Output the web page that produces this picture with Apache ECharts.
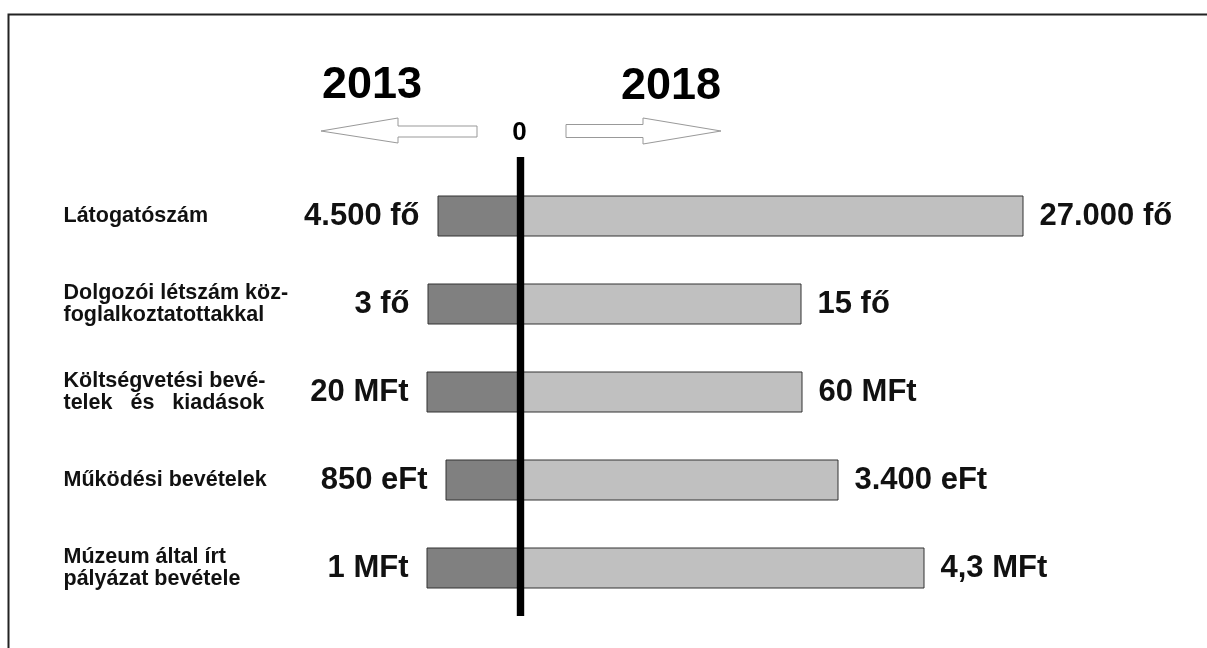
<!DOCTYPE html>
<html><head><meta charset="utf-8">
<script src="https://cdn.jsdelivr.net/npm/echarts@6/dist/echarts.min.js"></script>
<style>html,body{margin:0;padding:0;background:#fff}#c{width:1207px;height:648px}</style>
</head><body><div id="c"></div>
<script>
var categories = ['Látogatószám', 'Dolgozói létszám köz-\nfoglalkoztatottakkal', 'Költségvetési bevé-\ntelek   és   kiadások', 'Működési bevételek', 'Múzeum által írt\npályázat bevétele'];
var yearLeft = '2013';
var yearRight = '2018';
// visual bar lengths as drawn in the original (not proportional to the values)
var barLen2013 = [83, 93, 94, 75, 94];
var barLen2018 = [503, 281, 282, 318, 404];
var labels2013 = ['4.500 fő', '3 fő', '20 MFt', '850 eFt', '1 MFt'];
var labels2018 = ['27.000 fő', '15 fő', '60 MFt', '3.400 eFt', '4,3 MFt'];
var zeroLabel = '0';

var FONT = '"Liberation Sans", Arial, sans-serif';
var chart = echarts.init(document.getElementById('c'), null, {renderer: 'canvas'});
var valueLabelStyle = {fontFamily: FONT, fontWeight: 'bold', fontSize: 31, color: '#111'};

chart.setOption({
  animation: false,
  backgroundColor: '#fff',
  grid: {left: 370.5, width: 750, top: 172, height: 440, containLabel: false, outerBoundsMode: 'none'},
  xAxis: {type: 'value', min: -150, max: 600, show: false},
  yAxis: {
    type: 'category', inverse: true, data: categories,
    axisLine: {show: false}, axisTick: {show: false}, splitLine: {show: false},
    axisLabel: {align: 'left', margin: 307, fontFamily: FONT, fontWeight: 'bold', fontSize: 21.5, lineHeight: 22, color: '#111'}
  },
  series: [
    {
      type: 'bar', name: yearLeft, barWidth: 41, barGap: '-100%',
      data: barLen2013.map(function (v) { return -v; }),
      itemStyle: {color: '#808080', borderColor: '#333', borderWidth: 1},
      label: Object.assign({show: true, position: 'left', distance: 18,
        formatter: function (p) { return labels2013[p.dataIndex]; }}, valueLabelStyle)
    },
    {
      type: 'bar', name: yearRight, barWidth: 41,
      data: barLen2018,
      itemStyle: {color: '#c0c0c0', borderColor: '#333', borderWidth: 1},
      label: Object.assign({show: true, position: 'right', distance: 16,
        formatter: function (p) { return labels2018[p.dataIndex]; }}, valueLabelStyle)
    }
  ]
});

var x0 = chart.convertToPixel({xAxisIndex: 0}, 0);
var arrowStyle = {fill: '#fff', stroke: '#999', lineWidth: 1};
chart.setOption({
  graphic: [
    {type: 'rect', shape: {x: 8.5, y: 14.5, width: 1300, height: 700}, style: {fill: 'none', stroke: '#222', lineWidth: 2}, silent: true, z: 0},
    {type: 'text', x: 372, y: 86, style: {text: yearLeft, font: 'bold 45px ' + FONT, fill: '#000', textAlign: 'center', textVerticalAlign: 'middle'}},
    {type: 'text', x: 671, y: 87, style: {text: yearRight, font: 'bold 45px ' + FONT, fill: '#000', textAlign: 'center', textVerticalAlign: 'middle'}},
    {type: 'text', x: x0 - 1, y: 133, style: {text: zeroLabel, font: 'bold 26px ' + FONT, fill: '#000', textAlign: 'center', textVerticalAlign: 'middle'}},
    {type: 'polygon', shape: {points: [[321, 131], [398, 118], [398, 126], [477, 126], [477, 137], [398, 137], [398, 143]]}, style: arrowStyle},
    {type: 'polygon', shape: {points: [[566, 124.5], [643, 124.5], [643, 118], [721, 131], [643, 144], [643, 137.5], [566, 137.5]]}, style: arrowStyle},
    {type: 'rect', shape: {x: x0 - 3.7, y: 157, width: 7.4, height: 459}, style: {fill: '#000'}, z: 100}
  ]
});
</script></body></html>
